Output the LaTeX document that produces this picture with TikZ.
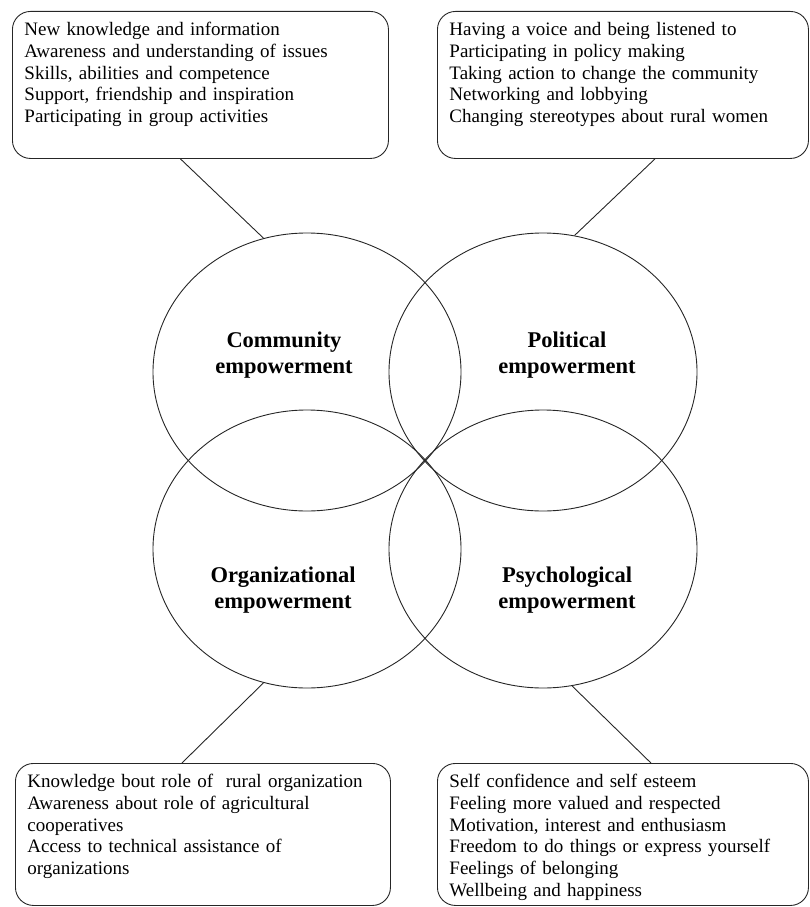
\documentclass[tikz,border=0pt]{standalone}
\usepackage{fontspec}
\setmainfont{Liberation Serif}
\usepackage{tikz}
\usetikzlibrary{positioning}
\usetikzlibrary{shapes,calc}

\begin{document}
\begin{tikzpicture}[x=1pt,y=-1pt,on grid,
  sphere/.style={draw=black!85,line width=0.9pt,ellipse,minimum width=308pt,minimum height=278pt,inner sep=0pt},
  lbl/.style={font=\fontsize{22.5}{26}\selectfont\bfseries,align=center,inner sep=0pt},
  infobox/.style={draw=black!85,line width=0.9pt,rounded corners=18pt,anchor=north west,align=left,
    inner xsep=12pt,inner ysep=11pt,text height=13pt,font=\fontsize{19}{21.8}\selectfont},
  conn/.style={draw=black!85,line width=0.9pt}]
   \useasboundingbox (0,0) rectangle (810,907);
   \node[sphere] (comm) at (307,372) {};
   \node[sphere] (pol) [right=236pt of comm] {};
   \node[sphere] (org) [below=177pt of comm] {};
   \node[sphere] (psy) [below=177pt of pol] {};
   \node[lbl] (comm_t) at ([xshift=-23pt,yshift=17pt]comm.center) {Community\\empowerment};
   \node[lbl] (pol_t) at ([xshift=24pt,yshift=17pt]pol.center) {Political\\empowerment};
   \node[lbl] (org_t) at ([xshift=-24pt,yshift=-41pt]org.center) {Organizational\\empowerment};
   \node[lbl] (psy_t) at ([xshift=24pt,yshift=-41pt]psy.center) {Psychological\\empowerment};
   \node[infobox,text width=352pt,text depth=112pt] (b_comm) at (12,11)
     {New knowledge and information\\
      Awareness and understanding of issues\\
      Skills, abilities and competence\\
      Support, friendship and inspiration\\
      Participating in group activities};
   \node[infobox,text width=347pt,text depth=112pt] (b_pol) at (437,11)
     {Having a voice and being listened to\\
      Participating in policy making\\
      Taking action to change the community\\
      Networking and lobbying\\
      Changing stereotypes about rural women};
   \node[infobox,text width=351pt,text depth=107pt] (b_org) at (15,763)
     {Knowledge bout role of \ rural organization\\
      Awareness about role of agricultural\\
      cooperatives\\
      Access to technical assistance of\\
      organizations};
   \node[infobox,text width=347pt,text depth=107pt] (b_psy) at (437,763)
     {Self confidence and self esteem\\
      Feeling more valued and respected\\
      Motivation, interest and enthusiasm\\
      Freedom to do things or express yourself\\
      Feelings of belonging\\
      Wellbeing and happiness};
    \path[conn]
    ([xshift=-20pt]b_comm.south) edge (comm.108)
    ([xshift=32pt]b_pol.south) edge (pol.77)
    ([xshift=-21pt]b_org.north) edge (org.252)
    ([xshift=28pt]b_psy.north) edge (psy.282);
\end{tikzpicture}
\end{document}
